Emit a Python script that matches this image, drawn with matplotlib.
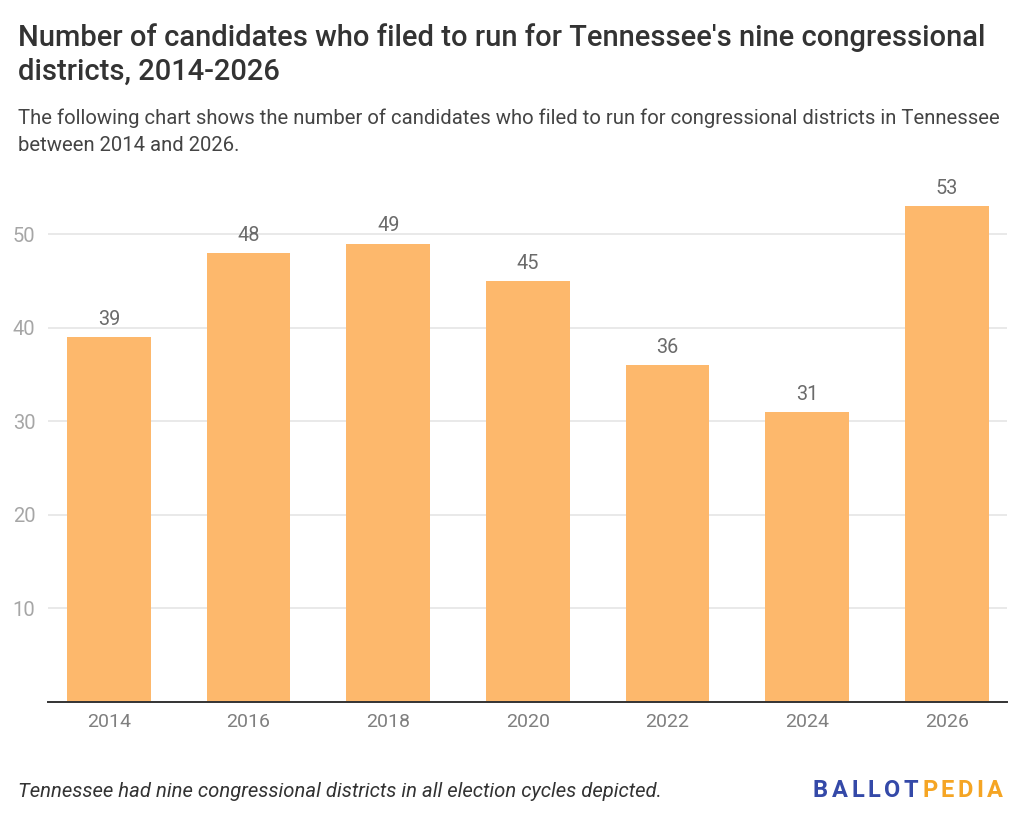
import matplotlib
matplotlib.use("Agg")
import matplotlib.pyplot as plt

years = ["2014", "2016", "2018", "2020", "2022", "2024", "2026"]
candidates = [39, 48, 49, 45, 36, 31, 53]
yticks = [10, 20, 30, 40, 50]

plt.rcParams['font.family'] = ['Roboto', 'DejaVu Sans']

W, H = 1024, 819
fig = plt.figure(figsize=(W / 100, H / 100), dpi=100)
ax = fig.add_axes([48 / W, 1 - 702 / H, (1007 - 48) / W, (702 - 178) / H])

x = list(range(len(years)))
ax.bar(x, candidates, width=0.6, color="#FDB86C", zorder=3)
ax.set_xlim(-0.435, len(years) - 1 + 0.43)
ax.set_ylim(0, 56)

ax.set_yticks(yticks)
ax.set_yticklabels([str(t) for t in yticks])
ax.set_xticks(x)
ax.set_xticklabels(years)
ax.tick_params(axis='y', length=0, pad=9, labelsize=14.5, labelcolor="#a6a6a6")
ax.tick_params(axis='x', length=0, pad=8, labelsize=14, labelcolor="#7f7f7f")
ax.grid(axis='y', color="#e3e3e3", linewidth=1.1, zorder=0)
for s in ['top', 'right', 'left']:
    ax.spines[s].set_visible(False)
ax.spines['bottom'].set_color("#333333")
ax.spines['bottom'].set_linewidth(1.4)
ax.spines['bottom'].set_zorder(4)

for xi, v in zip(x, candidates):
    ax.annotate(str(v), xy=(xi, v), xytext=(0, 6), textcoords='offset points',
                ha='center', va='bottom', fontsize=14.3, color="#6b6b6b", zorder=5)

fig.text(18 / W, 1 - 46 / H, "Number of candidates who filed to run for Tennessee's nine congressional",
         fontsize=21, fontweight='medium', color="#333333", va='baseline', ha='left')
fig.text(18 / W, 1 - 80 / H, "districts, 2014-2026",
         fontsize=21, fontweight='medium', color="#333333", va='baseline', ha='left')
fig.text(18 / W, 1 - 124 / H,
         "The following chart shows the number of candidates who filed to run for congressional districts in Tennessee",
         fontsize=14.6, color="#444444", va='baseline', ha='left')
fig.text(18 / W, 1 - 151 / H, "between 2014 and 2026.",
         fontsize=14.6, color="#444444", va='baseline', ha='left')

fig.text(18 / W, 1 - 797 / H, "Tennessee had nine congressional districts in all election cycles depicted.",
         fontsize=14.6, style='italic', color="#333333", va='baseline', ha='left')

# Logo with letter spacing
logo = [("BALLOT", "#3449A8"), ("PEDIA", "#F5A524")]
prev = None
for word, col in logo:
    for ch in word:
        if prev is None:
            prev = fig.text(813 / W, 1 - 797 / H, ch, fontsize=17, fontweight='bold',
                            color=col, va='baseline', ha='left')
        else:
            fig.canvas.draw()
            prev = ax.annotate(ch, xy=(1, 0), xycoords=prev, xytext=(2.6, 0),
                               textcoords='offset points', fontsize=17, fontweight='bold',
                               color=col, va='bottom', ha='left', annotation_clip=False)

fig.savefig("out.png", dpi=100)
